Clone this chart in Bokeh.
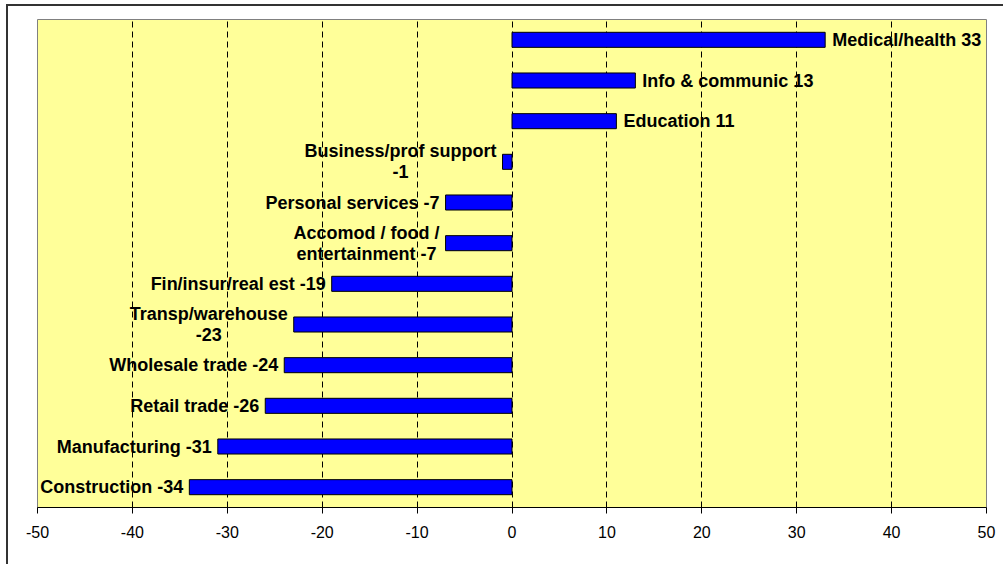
from bokeh.plotting import figure
from bokeh.models import ColumnDataSource, FactorRange, Range1d, FixedTicker, PrintfTickFormatter
from bokeh.core.properties import value
from bokeh.embed import file_html
from bokeh.resources import INLINE

# Data (bottom to top)
categories = ["Construction", "Manufacturing", "Retail trade", "Wholesale trade",
              "Transp/warehouse", "Fin/insur/real est", "Accomod / food / entertainment",
              "Personal services", "Business/prof support", "Education",
              "Info & communic", "Medical/health"]
changes = [-34, -31, -26, -24, -23, -19, -7, -7, -1, 11, 13, 33]
label_names = ["Construction", "Manufacturing", "Retail trade", "Wholesale trade",
               "Transp/warehouse\n", "Fin/insur/real est", "Accomod / food /\nentertainment",
               "Personal services", "Business/prof support\n", "Education",
               "Info & communic", "Medical/health"]
x_ticks = [-50, -40, -30, -20, -10, 0, 10, 20, 30, 40, 50]

labels = []
for n, v in zip(label_names, changes):
    sep = "" if n.endswith("\n") else " "
    labels.append(f"{n}{sep}{v}")

src = ColumnDataSource(dict(
    cat=categories,
    val=changes,
    zero=[0] * len(changes),
))
neg = ColumnDataSource(dict(
    cat=[c for c, v in zip(categories, changes) if v < 0],
    val=[v for v in changes if v < 0],
    label=[l for l, v in zip(labels, changes) if v < 0],
))
pos = ColumnDataSource(dict(
    cat=[c for c, v in zip(categories, changes) if v >= 0],
    val=[v for v in changes if v >= 0],
    label=[l for l, v in zip(labels, changes) if v >= 0],
))

p = figure(
    y_range=FactorRange(*categories),
    x_range=Range1d(-50, 50),
    frame_width=949, frame_height=488,
    min_border_left=37, min_border_right=17, min_border_top=19, min_border_bottom=57,
    output_backend="svg", toolbar_location=None,
    background_fill_color="#FFFF99", border_fill_color=None,
)
p.styles = {
    "background-color": "white",
    "background-image": "linear-gradient(#333333, #333333), linear-gradient(#333333, #333333)",
    "background-size": "2px 100%, 100% 2px",
    "background-position": "6px 4px, 6px 4px",
    "background-repeat": "no-repeat",
}
p.outline_line_color = "#808080"
p.outline_line_width = 1

p.hbar(y="cat", left="zero", right="val", height=0.37, source=src,
       fill_color="#0000FF", line_color="black", line_width=1)

font = value("Liberation Sans")
p.text(x="val", y="cat", text="label", source=neg,
       text_font=font, text_font_style="bold", text_font_size="18px",
       text_align="center", anchor="center_right", text_baseline="middle",
       text_line_height=1.05, x_offset=-6, text_color="black")
p.text(x="val", y="cat", text="label", source=pos,
       text_font=font, text_font_style="bold", text_font_size="18px",
       text_align="center", anchor="center_left", text_baseline="middle",
       text_line_height=1.05, x_offset=7, text_color="black")

p.yaxis.visible = False
p.ygrid.visible = False
p.xgrid.ticker = FixedTicker(ticks=[t for t in x_ticks if -50 < t < 50])
p.xgrid.grid_line_color = "black"
p.xgrid.grid_line_dash = "6 4"
p.xgrid.grid_line_width = 1

p.xaxis.ticker = FixedTicker(ticks=x_ticks)
p.xaxis.formatter = PrintfTickFormatter(format="%d")
p.xaxis.axis_line_color = "black"
p.xaxis.major_tick_line_color = "black"
p.xaxis.major_tick_in = 0
p.xaxis.major_tick_out = 6
p.xaxis.minor_tick_line_color = None
p.xaxis.major_label_text_font = "Liberation Sans"
p.xaxis.major_label_text_font_size = "16px"
p.xaxis.major_label_text_color = "black"
p.xaxis.major_label_standoff = 12

open("out.html", "w").write(file_html(p, INLINE))
